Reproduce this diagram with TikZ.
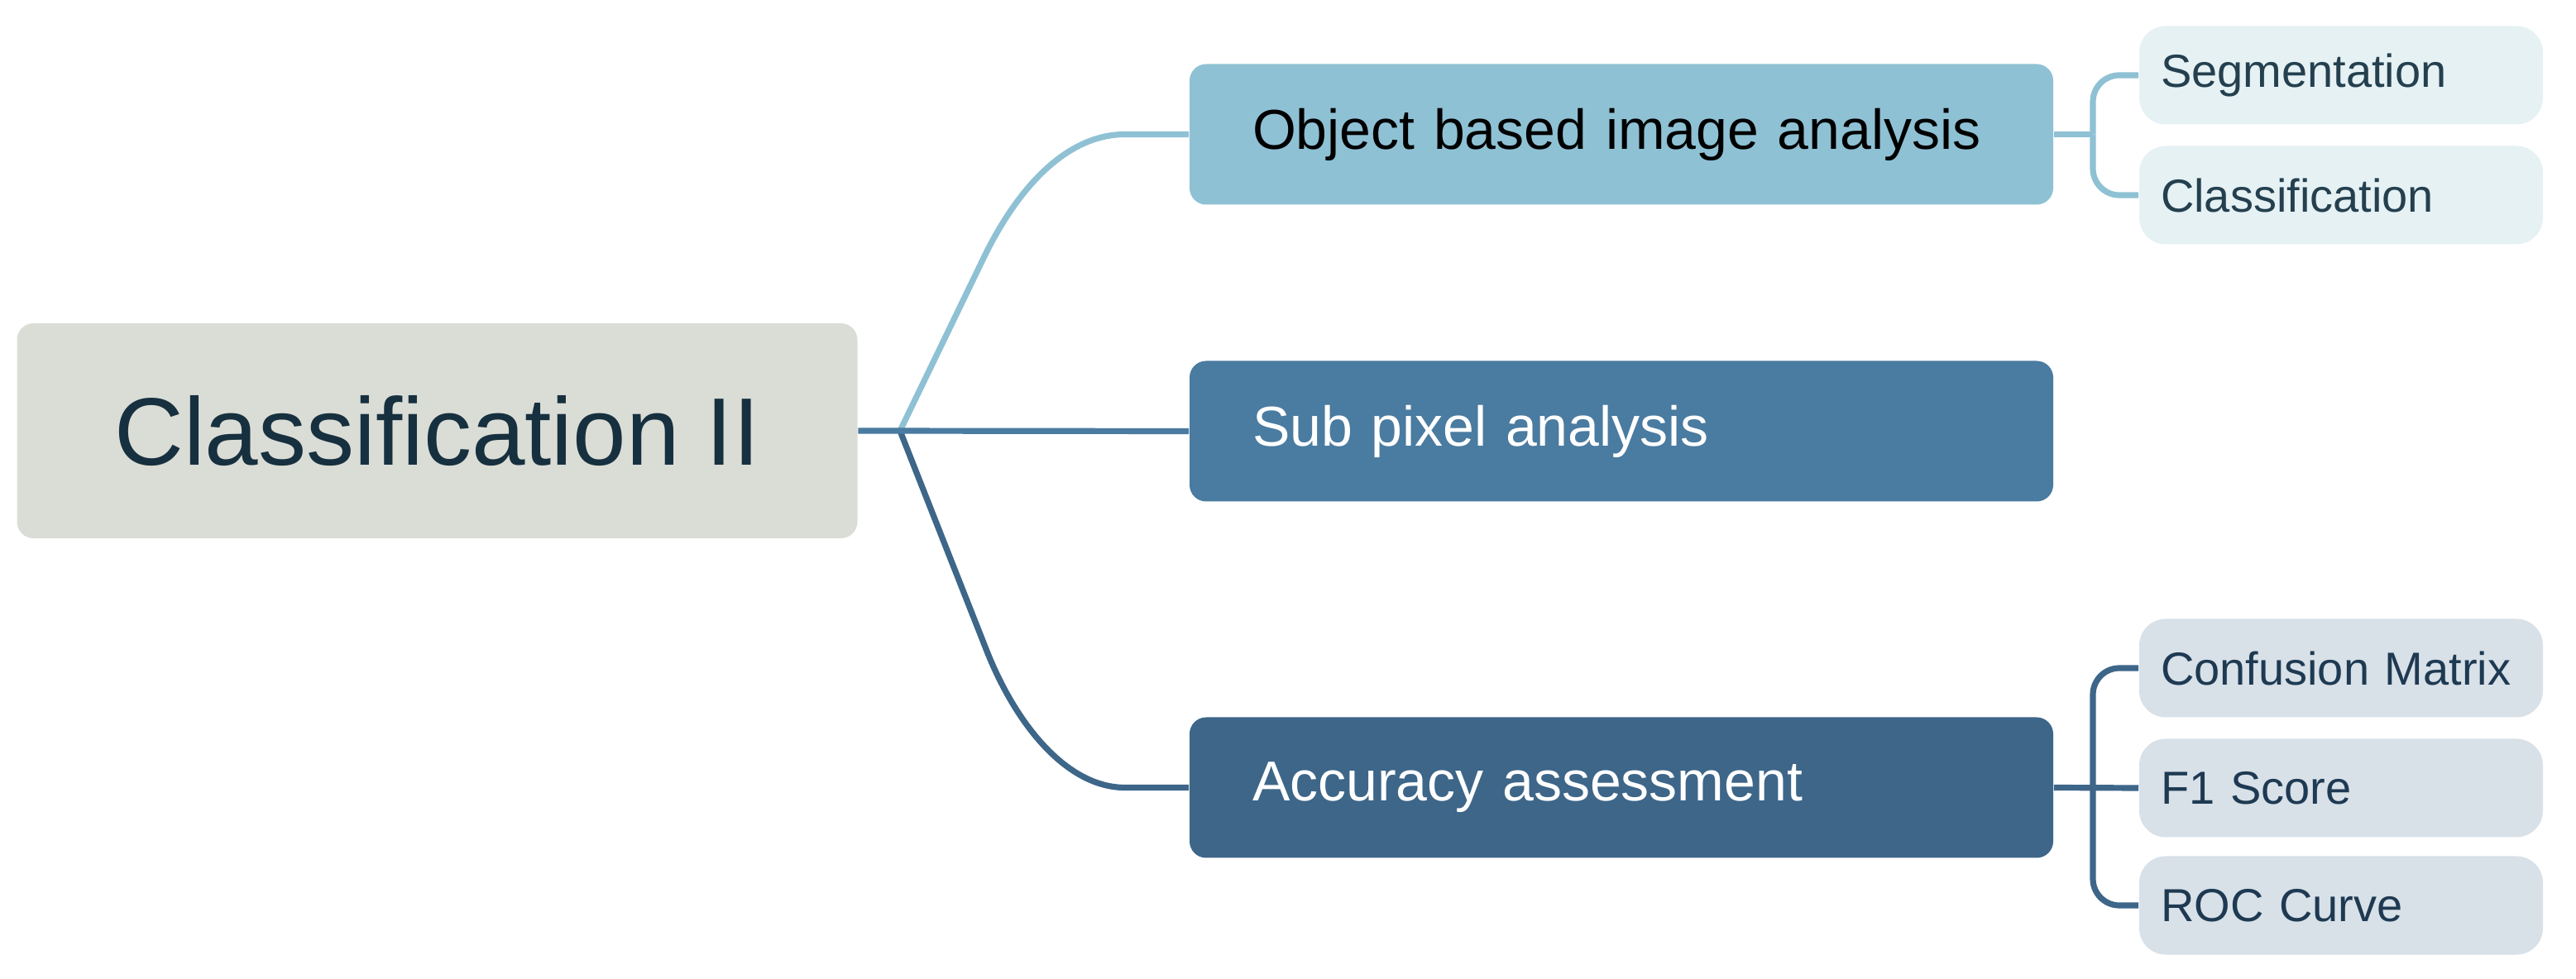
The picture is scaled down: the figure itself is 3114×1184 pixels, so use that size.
\documentclass[tikz,border=0pt]{standalone}
\usepackage{fontspec}
\setmainfont{Liberation Sans}
\definecolor{rootfill}{HTML}{DADDD6}
\definecolor{roottext}{HTML}{17303F}
\definecolor{objfill}{HTML}{8FC1D4}
\definecolor{subfill}{HTML}{4A7BA0}
\definecolor{accfill}{HTML}{3D6689}
\definecolor{objchild}{HTML}{E6F1F4}
\definecolor{objchildtext}{HTML}{24404F}
\definecolor{accchild}{HTML}{D8E0E8}
\definecolor{accchildtext}{HTML}{1E3A52}
\begin{document}
\begin{tikzpicture}[x=0.25pt,y=-0.25pt,
  rootbox/.style={fill=rootfill, rounded corners=5pt, minimum width=254pt, minimum height=65pt,
    text=roottext, font=\fontsize{29}{34}\selectfont, inner sep=0pt},
  mainbox/.style={rounded corners=5pt, text width=223pt, inner xsep=19pt, inner ysep=0pt,
    minimum height=42.5pt, align=left, font=\fontsize{17}{20}\selectfont},
  childbox/.style={rounded corners=8pt, text width=109pt, inner xsep=6.5pt, inner ysep=0pt,
    minimum height=29.75pt, align=left, font=\fontsize{14}{17}\selectfont},
  link/.style={line width=1.8pt},
  brace/.style={line width=1.8pt, rounded corners=8pt}]
\useasboundingbox (0,0) rectangle (3114,1184);
% nodes
\node[rootbox] (root) at (528.5,521) {Classification II};
\node[mainbox, fill=objfill, text=black] (obj) at (1960,162.5) {Object based image analysis};
\node[mainbox, fill=subfill, text=white] (sub) at (1960,521.5) {Sub pixel analysis};
\node[mainbox, fill=accfill, text=white] (acc) at (1960,952.5) {Accuracy assessment};
\node[childbox, fill=objchild, text=objchildtext] (seg) at (2830,91) {Segmentation};
\node[childbox, fill=objchild, text=objchildtext] (cls) at (2830,236) {Classification};
\node[childbox, fill=accchild, text=accchildtext] (cm) at (2830,808) {Confusion Matrix};
\node[childbox, fill=accchild, text=accchildtext] (f1) at (2830,953) {F1 Score};
\node[childbox, fill=accchild, text=accchildtext] (roc) at (2830,1095) {ROC Curve};
% hubs
\coordinate (hub) at (1088,521);
\coordinate (ob) at (2530,162.5);
\coordinate (ab) at (2530,952.5);
% main connectors
\draw[link, objfill] (hub) -- (1190,310) .. controls (1231,226) and (1290,162.5) .. (1360,162.5) -- (obj.west);
\draw[link, accfill] (hub) -- (1192,785) .. controls (1228,877) and (1290,952.5) .. (1360,952.5) -- (acc.west);
\draw[link, subfill] (root.east) -- (sub.west);
% child connectors
\draw[link, objfill] (obj.east) -- (ob);
\draw[brace, objfill] (ob) |- (seg.west);
\draw[brace, objfill] (ob) |- (cls.west);
\draw[link, accfill] (acc.east) -- (f1.west);
\draw[brace, accfill] (ab) |- (cm.west);
\draw[brace, accfill] (ab) |- (roc.west);
\end{tikzpicture}
\end{document}
